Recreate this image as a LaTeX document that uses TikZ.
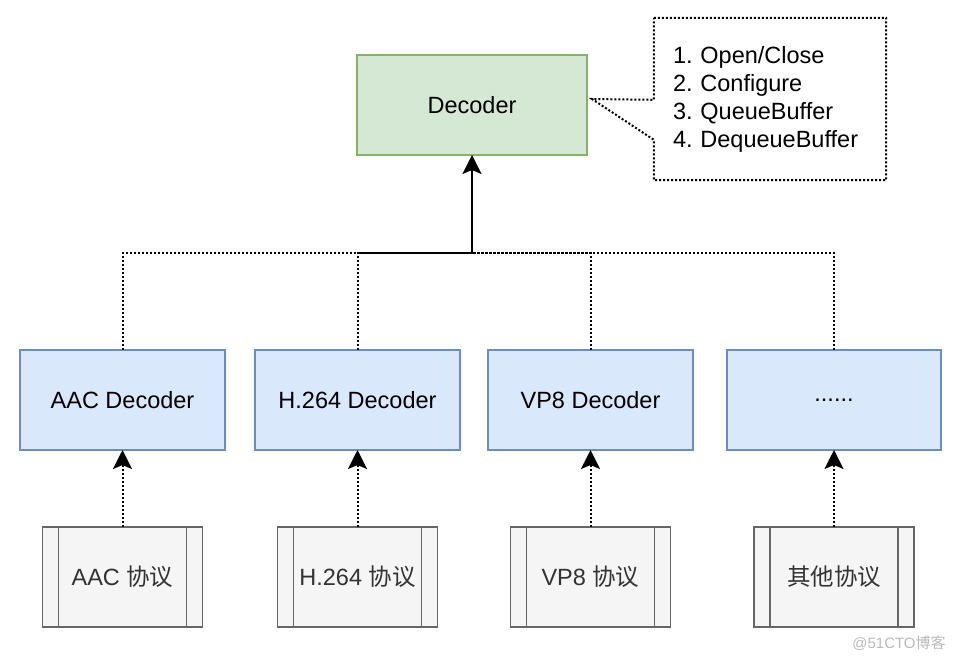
\documentclass[tikz,border=0pt]{standalone}
\usepackage{fontspec}
\setmainfont{Liberation Sans}
\newfontfamily\cjk{Noto Sans CJK SC}
\usepackage{tikz}
\usetikzlibrary{arrows.meta,positioning}
\definecolor{decfill}{HTML}{D5E8D4}
\definecolor{decdraw}{HTML}{82B366}
\definecolor{codecfill}{HTML}{DAE8FC}
\definecolor{codecdraw}{HTML}{6C8EBF}
\definecolor{protofill}{HTML}{F5F5F5}
\definecolor{protodraw}{HTML}{666666}
\definecolor{prototext}{HTML}{333333}
\frenchspacing

\begin{document}
\begin{tikzpicture}[
  x=1pt, y=-1pt,
  node distance=30pt and 30pt,
  every node/.style={font=\fontsize{23.5}{28}\selectfont, align=center},
  dec/.style={draw=decdraw, fill=decfill, line width=1.5pt, outer sep=0pt,
              minimum width=230pt, minimum height=100pt},
  codec/.style={draw=codecdraw, fill=codecfill, line width=1.5pt, outer sep=0pt,
                minimum width=205pt, minimum height=100pt},
  proto/.style={draw=protodraw, fill=protofill, text=prototext, line width=1.6pt, outer sep=0pt,
                minimum width=160pt, minimum height=100pt},
  protoline/.style={draw=protodraw, line width=1.6pt},
  dotline/.style={line width=2pt, dash pattern=on 2pt off 2pt},
  arr/.style={-{Stealth[length=19pt, width=19pt, inset=4pt]}, line width=2pt},
]
  \useasboundingbox (0,0) rectangle (958,662);

  \node[dec] (dec) at (472,105) {Decoder};
  \node[text width=194pt, align=left, minimum width=232pt, minimum height=162pt, inner sep=0pt]
    (note) at (770,99) {1. Open/Close\\2. Configure\\3. QueueBuffer\\4. DequeueBuffer};

  \node[codec] (aac) at (122.5,400) {AAC Decoder};
  \node[codec, right=of aac] (h264) {H.264 Decoder};
  \node[codec, right=28pt of h264] (vp8) {VP8 Decoder};
  \node[codec, right=34pt of vp8, minimum width=214pt] (more) {......};

  \node[proto, below=77pt of aac] (paac) {AAC {\cjk 协议}};
  \node[proto, below=77pt of h264] (ph264) {H.264 {\cjk 协议}};
  \node[proto, below=77pt of vp8] (pvp8) {VP8 {\cjk 协议}};
  \node[proto, below=77pt of more] (pother) {{\cjk 其他协议}};

  \node[font=\fontsize{15}{18}\selectfont, text=gray!55] (mark) at (899,643) {@51CTO{\cjk 博客}};

  % callout round the note
  \coordinate (tip) at (592,99);
  \draw[dotline] (note.north west) -- (note.north east) -- (note.south east) -- (note.south west)
    -- ([yshift=-122pt]note.north west) -- (tip) -- ([yshift=-82pt]note.north west) -- cycle;

  % process bars
  \foreach \n in {paac,ph264,pvp8,pother} {
    \draw[protoline] ([xshift=16pt]\n.north west) -- ([xshift=16pt]\n.south west);
    \draw[protoline] ([xshift=-16pt]\n.north east) -- ([xshift=-16pt]\n.south east);
  }

  \coordinate (jn) at (dec.south |- 0,253);
  \foreach \n in {aac,h264,vp8,more}
    \draw[dotline] (\n.north) |- (jn);
  \draw[arr] (h264.north |- jn) -- (jn) -- (dec.south);

  \foreach \a/\b in {paac/aac,ph264/h264,pvp8/vp8,pother/more}
    \draw[dotline, arr] (\a) -- (\b);
\end{tikzpicture}
\end{document}
